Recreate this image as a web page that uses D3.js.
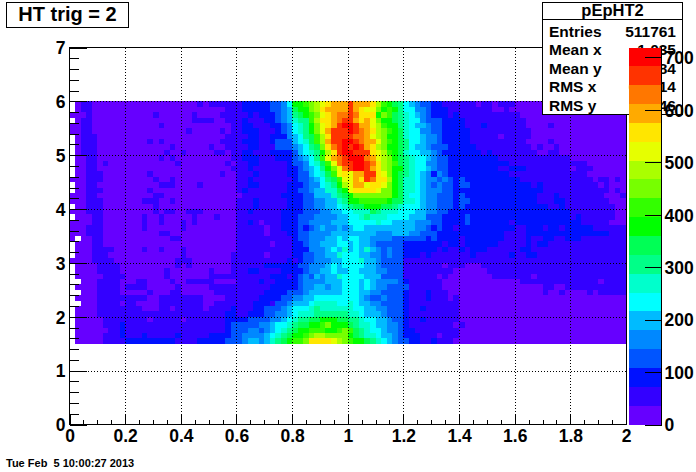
<!DOCTYPE html>
<html><head><meta charset="utf-8">
<script src="https://cdn.jsdelivr.net/npm/d3@7/dist/d3.min.js"></script>
<style>html,body{margin:0;padding:0;background:#fff}svg{display:block}text{font-family:"Liberation Sans",Arial,sans-serif;font-weight:bold;fill:#000}</style>
</head><body><svg id="c" width="696" height="472"></svg>
<script>
// Heat-map levels: one character per bin, base-20 colour level, "." = empty bin.
// Rows run from y=6 (top) to y=1.5 (bottom).
const leftBins = [
".0110000000000000000000101"+"1111",
".0110000000000000000000000001111",
"0001"+"00000000000"+"1"+"000000"+"1"+"0000"+"111",
".011"+"000000000000000000"+"1111"+"00"+"11",
"0011"+"000000000000"+"1"+"000000000000"+"1",
"0011"+"00000000000000000"+"1"+"00000"+"1"+"0"+"1",
".0111"+"00000000000000000000000"+"11",
".0111"+"000000000"+"1"+"0"+"1"+"0000000000"+"111",
".0111"+"0000000000000"+"1"+"000000"+"1"+"00"+"11",
".0111"+"000000000000"+"1"+"00"+"1"+"00000"+"11"+"0"+"1",
".0011"+"00000000000"+"1"+"0"+"1"+"0000000000"+"1",
".0011"+"0"+"1"+"000000000000"+"1"+"00000000"+"1"+"0",
".0011"+"000000000000000000000000"+"1",
".00111"+"00000000"+"1"+"000000000000"+"1"+"00",
"000111"+"000000000"+"1"+"00"+"1"+"00000000000",
".0011"+"00000000000"+"111"+"0000"+"1"+"000000",
".00111"+"00000000"+"1"+"000000000000000",
"00011"+"0000000000"+"11"+"0000000000000",
"000111"+"0000000"+"111"+"00"+"1"+"00000000000",
".00111"+"000000000"+"1"+"00000000000000",
"000111"+"000000000"+"1"+"0"+"11"+"00"+"111"+"000000",
".00011"+"0000000"+"1"+"00"+"1"+"00000"+"1"+"000"+"1"+"000",
"000011"+"0000000"+"1"+"00"+"1"+"000"+"1"+"0"+"1"+"0000000",
"000111"+"0000000"+"1"+"000000"+"1"+"000000000",
"000111"+"0000000000"+"11"+"000000000000",
"0.0011"+"000000000000"+"11"+"0000000000",
".00011"+"000000000000000000000000",
".00011"+"11"+"00000"+"1"+"00"+"1"+"000"+"1"+"000000000",
".00011"+"1"+"0000000000000"+"1"+"00000000"+"1",
"000011"+"11"+"00000000000"+"111"+"0000000"+"1",
".0000"+"1111"+"0000000000"+"1"+"0"+"1"+"0000000"+"1",
".0000"+"1111"+"00000000"+"1"+"0000000"+"1"+"000"+"1",
".00000"+"1111"+"0000000"+"1"+"0000000"+"1"+"1111",
"..000"+"1111"+"00011"+"0000"+"1"+"00"+"11111"+"0000",
".0000"+"1111"+"0"+"1111"+"00000"+"1"+"00000"+"1"+"1111",
"..000"+"1111"+"00000"+"1"+"000"+"11"+"000000"+"1111",
".0000"+"1111"+"11111"+"00"+"1111"+"1111000011",
"..000"+"1111"+"01100"+"0011111111001111",
".0000"+"1111"+"1111"+"000"+"11"+"0"+"11111"+"0"+"11112",
".0000"+"1111"+"111111111111111111122",
".00000"+"111"+"11111"+"0"+"11111"+"0"+"1111111"+"22",
".00000"+"111"+"2"+"111111111111111111"+"23",
".000000"+"11"+"2"+"1111111111111111112"+"33",
".00000"+"111"+"2"+"111"+"2"+"111112111112222"+"33",
".00000"+"1111"+"222222222"+"111122"+"222"+"33"
];
// Columns x = 0.6 to 1.4
const centreBins = [
"1222223346"+"aabcdefggg"+"igggfdba98"+"6543322111",
"1222223345"+"9aacdfgggg"+"igfeecaba8"+"6644322211",
"1121222345"+"89abcefghh"+"ihfffacb98"+"7654322212",
"1211122345"+"788bdffghi"+"igfgecaa98"+"7664333222",
"1221112234"+"678acefgij"+"jiggedbaa8"+"7655433222",
"1222111234"+"678acegiii"+"jihgfdcba9"+"7664433222",
"1122112224"+"5689bdfiii"+"ihhgedcaa9"+"7665443222",
"1222112333"+"5679bdgiij"+"jihggecba9"+"8665443222",
"1122111333"+"45689cfhij"+"ijigfdcaa9"+"8655433322",
"1221112222"+"35678adfij"+"jiiifedba9"+"7665543222",
"1222111222"+"34568beghi"+"jjjhgedca9"+"8766543322",
"1122111112"+"334679behi"+"ijjihfdcb9"+"8766443322",
"1121111112"+"234568aceh"+"ijjigfdcaa"+"8766543322",
"1112111112"+"2335679bef"+"eggiifeca9"+"8765424322",
"1121111111"+"23345689be"+"egfihffda9"+"7765443432",
"1122111112"+"22344678ad"+"eggeffeca9"+"7765434332",
"1211111112"+"233455779a"+"effffecca9"+"7765444332",
"0111111122"+"2233555789"+"accccccca9"+"7665443332",
"1112111112"+"2233445578"+"aabbbbba99"+"7765443332",
"1112111112"+"2233445567"+"899aaa9987"+"6665443332",
"1121111122"+"2233344556"+"6777987776"+"6655443322",
"1111111122"+"2333444455"+"6678777666"+"6555333222",
"1121011122"+"2334444555"+"6666676655"+"5544433222",
"1111101122"+"2323454454"+"5665555555"+"5544323221",
"1111101112"+"2334444555"+"5555544455"+"5443332222",
"1111111111"+"2334445565"+"6655444433"+"3333232222",
"1111110111"+"2234455566"+"5655433333"+"2222222122",
"1111111111"+"2224445657"+"5657543433"+"2222221211",
"1111101111"+"2233445576"+"6655443433"+"2221211111",
"1111111112"+"1233444556"+"6675543333"+"1111111111",
"1111122222"+"2334445656"+"6665543333"+"1111111011",
"1122111122"+"2234455655"+"6655544333"+"1111111110",
"1111112221"+"2343545576"+"6665553333"+"1111110100",
"1111211222"+"2344445556"+"6656544443"+"2111111000",
"1111112222"+"2344554556"+"6656544333"+"3111111000",
"1111122223"+"3345555556"+"6655443333"+"2111211100",
"1111222233"+"4455666666"+"6654334333"+"2111211101",
"1112221334"+"5556777766"+"7655443333"+"2111111111",
"1112233345"+"6667877777"+"7665544333"+"2112111111",
"1122233445"+"6777888888"+"7765554333"+"2111111111",
"2233334456"+"78899aaa99"+"8876655433"+"2112111111",
"3333445667"+"899aabcaaa"+"9877655443"+"2111111110",
"3344345678"+"9aabbbaabc"+"b987665443"+"2211111111",
"3444456789"+"aabcddcccc"+"a987765543"+"2221110111",
"345545789a"+"bbcffffedc"+"baa9876543"+"3221121110"
];
// Columns x = 1.4 to 2
const rightBins = [
"111011011100000000000000000000",
"111111001000000000000000000000",
"111111111110000000000000000000",
"211111111111000000000000000000",
"211121111111000010000000000000",
"221111111111100000000000000000",
"221111101111100000000000000000",
"221111111111000010000000000000",
"222111111111101001000000000000",
"222212111111110011000000000000",
"222222211111111111110000000000",
"222222222111111111111110000000",
"222222211222111111110111000000",
"222222222111111111111110000000",
"322222222221111111111111011010",
"332222222222212111111111101000",
"222222222222222111111111111010",
"322222222222221112111111110001",
"332222222222221112211111111000",
"322222222222222211211111111100",
"222222222222222222221111111100",
"232222222222222222221211111100",
"232222222122222222222211111000",
"222222222211222122122222111111",
"222222221111222222222222222111",
"122222221111211221122211111111",
"122222211111212211111111111111",
"212221111112211111111111111111",
"112111111211221111111111111111",
"111111111111111111111111111111",
"100011111111111111111111111111",
"000001111111111111111111111111",
"000000111111101111111111111111",
"000000000001111111111111101111",
"000000000000000110011111111111",
"000000000000000100100001011111",
"000000000000000000000000000000",
"000000000000000000000000000000",
"000000000000000000000000000000",
"000000000000000000000000000000",
"000000000000000000000000000000",
"100000000000000000000000000000",
"000000000000000000000000000000",
"000000000000000000000000000000",
"000000000000000000000000000000"
];
const paletteColors = ["#6600ff","#3300ff","#0011ff","#0055ff","#0088ff","#00bbff","#00ffff","#00ffcc","#00ff88","#00ff55","#00ff00","#33ff00","#77ff00","#aaff00","#e6ff00","#ffe600","#ffaa00","#ff7700","#ff3300","#ff0000"];
const zMax = 719;
const xTicks = [0,0.2,0.4,0.6,0.8,1,1.2,1.4,1.6,1.8,2];
const xMinor = d3.range(0,2.001,0.05);
const yTicks = [0,1,2,3,4,5,6,7];
const yMinor = d3.range(0,7.001,0.2);
const zTicks = [0,100,200,300,400,500,600,700];
const statNames = ["Entries","Mean x","Mean y","RMS x","RMS y"];
const statValues = ["511761","1.035","3.784","0.3014","1.246"];
const titleText = "HT trig = 2";
const statTitle = "pEpHT2";
const stamp = "Tue Feb\u00a0\u00a05 10:00:27 2013";

const L=69.5,R=626,T=47.5,B=424.5;
const x=d3.scaleLinear().domain([0,2]).range([L,R]);
const y=d3.scaleLinear().domain([0,7]).range([B,T]);
const zY=d3.scaleLinear().domain([0,zMax]).range([424.5,47.5]);
const colour=d3.scaleQuantize().domain([0,zMax]).range(paletteColors);
const svg=d3.select("#c");

// heat map
const binW=0.02,binH=0.1,yTop=6;
const cells=[];
leftBins.forEach((_,r)=>{
  const row=leftBins[r].padEnd(30,"0").slice(0,30)+centreBins[r].padEnd(40,"1").slice(0,40)+rightBins[r].padEnd(30,"0").slice(0,30);
  for(let c=0;c<100;c++){
    if(row[c]===".")continue;
    cells.push({xv:c*binW,yv:yTop-r*binH,z:(parseInt(row[c],20)+0.5)*zMax/20});
  }
});
svg.append("g").attr("shape-rendering","crispEdges").selectAll("rect").data(cells).join("rect")
  .attr("x",d=>x(d.xv)).attr("width",d=>x(d.xv+binW)-x(d.xv))
  .attr("y",d=>y(d.yv)).attr("height",d=>y(d.yv-binH)-y(d.yv))
  .attr("fill",d=>colour(d.z));

// grid
const grid=svg.append("g").attr("stroke","#000").attr("stroke-dasharray","1 2").attr("shape-rendering","crispEdges");
grid.selectAll(".gx").data(xTicks.slice(1,-1)).join("line").attr("x1",d=>Math.round(x(d))+.5).attr("x2",d=>Math.round(x(d))+.5).attr("y1",T).attr("y2",B);
grid.selectAll(".gy").data(yTicks.slice(1,-1)).join("line").attr("y1",d=>Math.round(y(d))+.5).attr("y2",d=>Math.round(y(d))+.5).attr("x1",L).attr("x2",R);

// axes
function style(g){g.select(".domain").remove();g.selectAll("line").attr("stroke","#000").attr("shape-rendering","crispEdges");g.selectAll("text").attr("font-size",17.5).attr("fill","#000");}
svg.append("g").attr("transform",`translate(0,${B})`).call(d3.axisBottom(x).tickValues(xMinor).tickSize(-5).tickFormat("")).call(style);
svg.append("g").attr("transform",`translate(0,${B})`).call(d3.axisBottom(x).tickValues(xTicks).tickSize(-11).tickFormat(d3.format("~g"))).call(style)
  .selectAll("text").attr("dy","0.71em").attr("y",5);
svg.append("g").attr("transform",`translate(${L},0)`).call(d3.axisLeft(y).tickValues(yMinor).tickSize(-9).tickFormat("")).call(style);
svg.append("g").attr("transform",`translate(${L},0)`).call(d3.axisLeft(y).tickValues(yTicks).tickSize(-17).tickFormat(d3.format("d"))).call(style)
  .selectAll("text").attr("x",-4).attr("dy","0.36em");
svg.append("rect").attr("x",L).attr("y",T).attr("width",R-L).attr("height",B-T).attr("fill","none").attr("stroke","#000").attr("shape-rendering","crispEdges");

// title box
svg.append("rect").attr("x",6.5).attr("y",2.5).attr("width",122).attr("height",25).attr("fill","#fff").attr("stroke","#000").attr("shape-rendering","crispEdges");
svg.append("text").attr("x",67.5).attr("y",21).attr("text-anchor","middle").attr("font-size",20).text(titleText);

// stats box
const sb=svg.append("g");
sb.append("rect").attr("x",542.5).attr("y",2.5).attr("width",140).attr("height",112).attr("fill","#fff").attr("stroke","#000").attr("shape-rendering","crispEdges");
sb.append("line").attr("x1",542.5).attr("x2",682.5).attr("y1",19.5).attr("y2",19.5).attr("stroke","#000").attr("shape-rendering","crispEdges");
sb.append("text").attr("x",612.5).attr("y",15.5).attr("text-anchor","middle").attr("font-size",16.5).text(statTitle);
const sy=[36.5,55,73.5,92,110.5];
statNames.forEach((n,i)=>{
  sb.append("text").attr("x",549).attr("y",sy[i]).attr("font-size",15.5).text(n);
  sb.append("text").attr("x",676).attr("y",sy[i]).attr("text-anchor","end").attr("font-size",15.5).text(statValues[i]);
});

// palette
const pw=zMax/20;
svg.append("g").attr("shape-rendering","crispEdges").selectAll("rect").data(paletteColors).join("rect")
  .attr("x",629).attr("width",32).attr("y",(d,i)=>zY((i+1)*pw)).attr("height",(d,i)=>zY(i*pw)-zY((i+1)*pw)).attr("fill",d=>d);
svg.append("line").attr("x1",661.5).attr("x2",661.5).attr("y1",47).attr("y2",424.5).attr("stroke","#000").attr("shape-rendering","crispEdges");
svg.append("g").attr("transform","translate(661.5,0)").call(d3.axisRight(zY).tickValues(zTicks).tickSize(-17).tickFormat(d3.format("d"))).call(style)
  .selectAll("text").attr("x",3).attr("dy","0.36em");

svg.append("text").attr("x",6).attr("y",467).attr("font-size",11).text(stamp);
</script></body></html>
